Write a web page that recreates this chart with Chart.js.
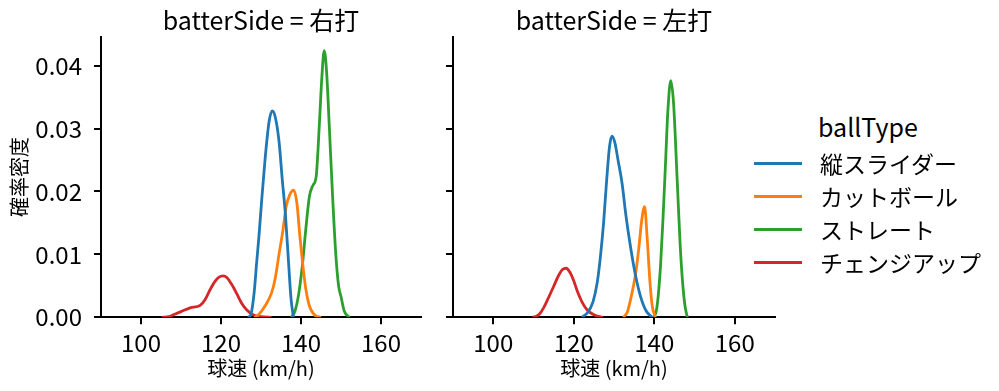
<!DOCTYPE html>
<html>
<head>
<meta charset="utf-8">
<script src="https://cdn.jsdelivr.net/npm/chart.js@4.4.1/dist/chart.umd.min.js"></script>
<style>
  body { margin: 0; background: #fff; width: 999px; height: 391px; position: relative; overflow: hidden;
         font-family: "Noto Sans CJK JP", sans-serif; color: #000; }
  canvas { position: absolute; top: 0; }
  #chartRight { left: 440px; }
  #chartLeft { left: 0; }
  .lg-title { position: absolute; left: 818px; top: 114px; font-size: 25px; line-height: 25px; }
  .lg-row { position: absolute; left: 754px; height: 24px; }
  .lg-row span.swatch { position: absolute; left: 0; top: 10px; width: 48px; height: 3px; }
  .lg-row span.txt { position: absolute; left: 66px; top: 0; font-size: 23px; line-height: 23px; white-space: nowrap; }
</style>
</head>
<body>
<canvas id="chartLeft" width="440" height="391"></canvas>
<canvas id="chartRight" width="350" height="391"></canvas>
<div id="legend"></div>

<script>
// facets and hue
const panels = ["右打", "左打"];
const ballTypes = ["縦スライダー", "カットボール", "ストレート", "チェンジアップ"];
const colors = ["#1f77b4", "#ff7f0e", "#2ca02c", "#d62728"];

// tick labels
const speedTicks = [100, 120, 140, 160];
const densityTicks = [0, 0.01, 0.02, 0.03, 0.04];

// 右打 - KDE curves (speed km/h, density)
const rSliderX = [126.8, 127.5, 128.3, 128.9, 129.5, 130.1, 131, 132, 132.8, 133.5, 134.5, 135.3, 136.1, 136.9, 137.5, 138.1];
const rSliderY = [0, 0.0005, 0.004, 0.0086, 0.013, 0.018, 0.025, 0.031, 0.0328, 0.032, 0.028, 0.022, 0.0164, 0.0086, 0.003, 0];
const rCutX = [128.4, 129.5, 131, 132.6, 133.5, 134.5, 135.5, 136.3, 137.2, 138.2, 139, 139.7, 140.4, 141.2, 142, 142.5, 143.5, 145];
const rCutY = [0, 0.0005, 0.0018, 0.0038, 0.006, 0.010, 0.0139, 0.0176, 0.0195, 0.0202, 0.018, 0.013, 0.0086, 0.0045, 0.002, 0.0012, 0.0003, 0];
const rStraightX = [137.6, 138.5, 139.5, 140.4, 141.2, 142.1, 143, 143.8, 144.6, 145.2, 145.8, 146.4, 147.1, 147.9, 148.7, 149.4, 150, 150.8, 152.1];
const rStraightY = [0, 0.001, 0.004, 0.0086, 0.014, 0.0192, 0.021, 0.0224, 0.0308, 0.038, 0.0424, 0.039, 0.030, 0.0192, 0.010, 0.005, 0.0033, 0.001, 0];
const rChangeX = [105.2, 107, 108.1, 110, 112.3, 114.8, 116, 117.2, 118.5, 119.5, 120.5, 121.5, 122.7, 123.9, 125.2, 126.4, 128, 130, 132.6];
const rChangeY = [0, 0.0001, 0.0004, 0.0009, 0.0015, 0.0019, 0.0028, 0.0043, 0.0057, 0.0064, 0.0066, 0.0063, 0.0052, 0.0038, 0.0022, 0.0012, 0.0004, 0.0001, 0];

// 左打
const lSliderX = [122, 123.5, 124.8, 125.8, 126.6, 127.4, 128.2, 128.9, 129.5, 130.2, 131, 132, 133, 134.1, 135.3, 136.6, 138, 139.5];
const lSliderY = [0, 0.0008, 0.0025, 0.0054, 0.0095, 0.0149, 0.022, 0.0272, 0.0288, 0.0278, 0.025, 0.0213, 0.016, 0.0112, 0.0068, 0.0033, 0.001, 0];
const lCutX = [132.3, 133.3, 134, 134.8, 135.5, 136.2, 136.9, 137.6, 138.2, 138.9, 139.5, 140.3];
const lCutY = [0, 0.0008, 0.0025, 0.0049, 0.0075, 0.0112, 0.0155, 0.0176, 0.013, 0.0059, 0.0018, 0];
const lStraightX = [139.9, 140.5, 141, 141.6, 142.2, 142.8, 143.4, 144.1, 144.8, 145.7, 146.4, 147, 147.6, 148.2];
const lStraightY = [0, 0.001, 0.0035, 0.0086, 0.016, 0.0245, 0.033, 0.0376, 0.034, 0.0218, 0.012, 0.0059, 0.002, 0];
const lChangeX = [109.8, 110.8, 111.6, 112.5, 113.5, 115, 116.2, 117.2, 118.1, 119, 120, 120.8, 122, 123.3, 125, 127.2];
const lChangeY = [0, 0.0002, 0.0006, 0.0015, 0.0028, 0.0049, 0.0066, 0.0076, 0.0078, 0.0072, 0.0058, 0.0043, 0.0025, 0.0012, 0.0004, 0];

const curves = [
  [[rSliderX, rSliderY], [rCutX, rCutY], [rStraightX, rStraightY], [rChangeX, rChangeY]],
  [[lSliderX, lSliderY], [lCutX, lCutY], [lStraightX, lStraightY], [lChangeX, lChangeY]],
];

Chart.defaults.font.family = '"Noto Sans CJK JP", sans-serif';
Chart.defaults.color = "#000";

function makeChart(canvasId, p, first) {
  const datasets = ballTypes.map((name, i) => {
    const [xs, ys] = curves[p][i];
    return {
      label: name,
      data: xs.map((x, k) => ({ x: x, y: ys[k] })),
      borderColor: colors[i],
      borderWidth: 2.8,
      pointRadius: 0,
      fill: false,
      cubicInterpolationMode: "monotone",
    };
  });

  return new Chart(document.getElementById(canvasId).getContext("2d"), {
    type: "line",
    data: { datasets: datasets },
    options: {
      responsive: false,
      animation: false,
      layout: { padding: { left: 0, right: first ? 19 : 15, top: 0, bottom: 0 } },
      plugins: {
        legend: { display: false },
        tooltip: { enabled: false },
        title: {
          display: true,
          text: "batterSide = " + panels[p],
          fullSize: false,
          font: { size: 25, weight: "normal" },
          color: "#000",
          padding: { top: 5, bottom: 1.7 },
        },
      },
      scales: {
        x: {
          type: "linear",
          min: 90,
          max: 170,
          afterBuildTicks: (scale) => { scale.ticks = speedTicks.map((v) => ({ value: v })); },
          afterFit: (scale) => { scale.height = 73.7; },
          grid: { drawOnChartArea: false, drawTicks: true, tickLength: 7, color: "#000", lineWidth: 2 },
          border: { display: true, color: "#000", width: 2 },
          ticks: { font: { size: 24 }, padding: 4, maxRotation: 0 },
          title: { display: true, text: "球速 (km/h)", font: { size: 20 }, padding: { top: 0, bottom: 11 } },
        },
        y: {
          type: "linear",
          min: 0,
          max: 0.0446,
          afterBuildTicks: (scale) => { scale.ticks = densityTicks.map((v) => ({ value: v })); },
          afterFit: (scale) => { scale.width = first ? 101 : 13; },
          grid: { drawOnChartArea: false, drawTicks: true, tickLength: 7, color: "#000", lineWidth: 2 },
          border: { display: true, color: "#000", width: 2 },
          ticks: {
            display: first,
            font: { size: 24 },
            padding: 12,
            callback: (v) => Number(v).toFixed(2),
          },
          title: { display: first, text: "確率密度", font: { size: 20 }, padding: { top: 7, bottom: 0 } },
        },
      },
    },
  });
}

makeChart("chartLeft", 0, true);
makeChart("chartRight", 1, false);

// legend
const legend = document.getElementById("legend");
const lgTitle = document.createElement("div");
lgTitle.className = "lg-title";
lgTitle.textContent = "ballType";
legend.appendChild(lgTitle);
const rowY = [163, 196, 229, 262];
ballTypes.forEach((name, i) => {
  const row = document.createElement("div");
  row.className = "lg-row";
  row.style.top = (rowY[i] - 11.5) + "px";
  row.innerHTML = '<span class="swatch" style="background:' + colors[i] + '"></span><span class="txt">' + name + "</span>";
  legend.appendChild(row);
});
</script>
</body>
</html>
